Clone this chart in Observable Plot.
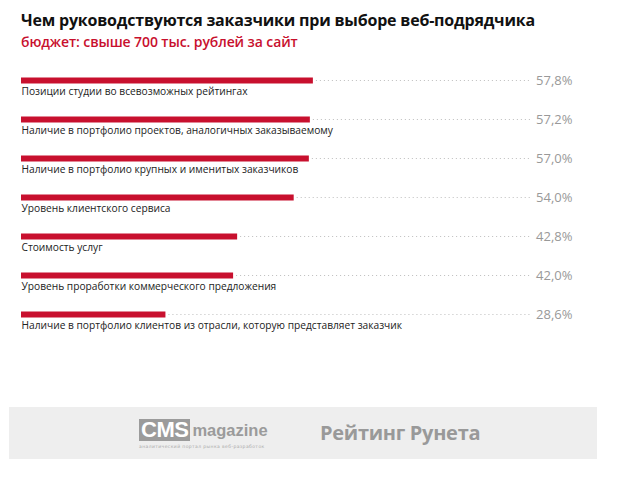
<!DOCTYPE html>
<html>
<head>
<meta charset="utf-8">
<script src="https://cdn.jsdelivr.net/npm/d3@7"></script>
<script src="https://cdn.jsdelivr.net/npm/@observablehq/plot@0.6"></script>
<style>
  html, body { margin: 0; padding: 0; background: #fff; }
  body { width: 617px; height: 477px; position: relative; overflow: hidden; font-family: "Open Sans", sans-serif; }
  #title { position: absolute; left: 21px; top: 9px; font-size: 16px; font-weight: 700; line-height: 22px; color: #111; letter-spacing: -0.2px; }
  #subtitle { position: absolute; left: 21px; top: 33px; font-size: 14px; font-weight: 600; line-height: 18px; color: #c8102e; letter-spacing: -0.1px; }
  #chart { position: absolute; left: 0; top: 60px; }
  #footer { position: absolute; left: 9px; top: 407px; width: 588px; height: 52px; background: #eeeeee; }
  #cms { position: absolute; left: 130px; top: 12px; height: 22px; display: flex; align-items: center; }
  #cmsbox { background: #9b9b9b; color: #fff; font-family: "Liberation Sans", Arial, sans-serif; font-weight: 700; font-size: 22px; line-height: 22px; padding: 0 2px; letter-spacing: -0.5px; }
  #cmsmag { color: #9b9b9b; font-family: "Liberation Sans", Arial, sans-serif; font-weight: 700; font-size: 16.5px; margin-left: 2px; }
  #cmstag { position: absolute; left: 130px; top: 37px; font-size: 4.5px; color: #aaa; font-family: "DejaVu Sans", sans-serif; letter-spacing: 0.4px; }
  #runet { position: absolute; left: 311px; top: 12px; font-size: 20px; font-weight: 700; color: #999; font-family: "Open Sans", sans-serif; letter-spacing: -0.3px; }
</style>
</head>
<body>
<div id="title">Чем руководствуются заказчики при выборе веб-подрядчика</div>
<div id="subtitle">бюджет: свыше 700 тыс. рублей за сайт</div>
<div id="chart"></div>
<div id="footer">
  <div id="cms"><span id="cmsbox">CMS</span><span id="cmsmag">magazine</span></div>
  <div id="cmstag">аналитический портал рынка веб-разработок</div>
  <div id="runet">Рейтинг Рунета</div>
</div>
<script>
const categories = [
  "Позиции студии во всевозможных рейтингах",
  "Наличие в портфолио проектов, аналогичных заказываемому",
  "Наличие в портфолио крупных и именитых заказчиков",
  "Уровень клиентского сервиса",
  "Стоимость услуг",
  "Уровень проработки коммерческого предложения",
  "Наличие в портфолио клиентов из отрасли, которую представляет заказчик"
];
const values = [57.8, 57.2, 57.0, 54.0, 42.8, 42.0, 28.6];

const data = categories.map((c, i) => ({category: c, value: values[i]}));
const fmt = v => d3.format(".1f")(v).replace(".", ",") + "%";
const font = "Open Sans, sans-serif";

const chart = Plot.plot({
  width: 617,
  height: 280,
  marginLeft: 21,
  marginRight: 91,
  marginTop: 0,
  marginBottom: 0,
  style: {fontFamily: font, background: "transparent"},
  x: {domain: [0, 100], axis: null},
  y: {type: "point", domain: categories, range: [19, 255], padding: 0, axis: null},
  marks: [
    Plot.ruleY(data, {y: "category", x1: d => d.value, x2: 100.2, stroke: "#bdbdbd", strokeWidth: 1, strokeDasharray: "1,3", dx: 3}),
    Plot.ruleY(data, {y: "category", x1: 0, x2: "value", stroke: "#c8102e", strokeWidth: 6}),
    Plot.text(data, {y: "category", x: 0, text: "category", textAnchor: "start", dy: 11, fill: "#222", fontSize: 10.2}),
    Plot.text(data, {y: "category", x: 100, text: d => fmt(d.value), textAnchor: "end", dx: 46, fill: "#999", fontSize: 13})
  ]
});
document.getElementById("chart").appendChild(chart);
</script>
</body>
</html>
